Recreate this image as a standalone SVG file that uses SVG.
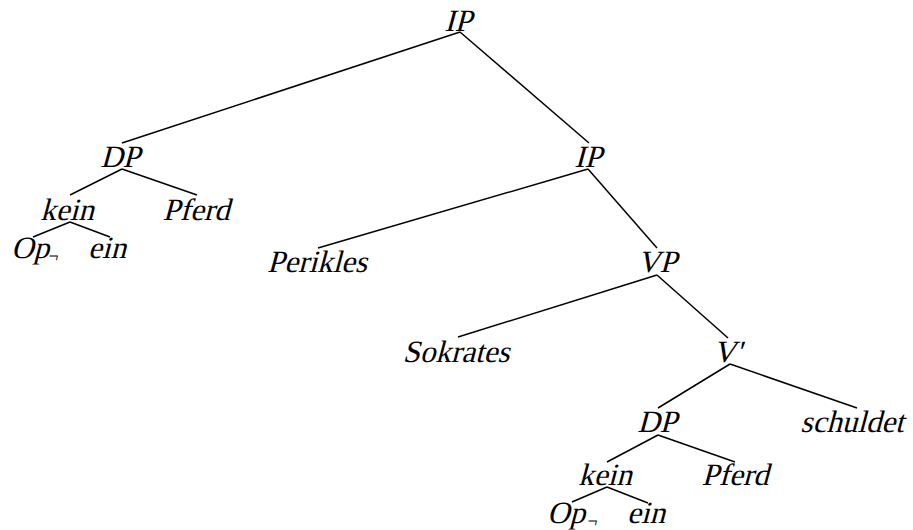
<svg xmlns="http://www.w3.org/2000/svg" width="913" height="530" viewBox="0 0 913 530">
<style>
  .lbl { font-family: 'Liberation Serif', 'Times New Roman', serif; font-style: normal; font-size: 31px; fill: #000; text-anchor: middle; }
  .st { text-anchor: start; }
  .neg { font-size: 18px; }
  .edges line { stroke: #000; stroke-width: 1.5; }
</style>
<rect width="913" height="530" fill="#fff"/>
<g class="edges" id="connectors">
  <line x1="460" y1="32" x2="122" y2="143"/>
  <line x1="460" y1="32" x2="589" y2="143"/>
  <line x1="122" y1="169" x2="70" y2="195"/>
  <line x1="122" y1="169" x2="197" y2="195"/>
  <line x1="70" y1="222" x2="33" y2="237"/>
  <line x1="70" y1="222" x2="110" y2="237"/>
  <line x1="588" y1="169" x2="318" y2="248"/>
  <line x1="588" y1="169" x2="657" y2="248"/>
  <line x1="657" y1="275" x2="458" y2="337"/>
  <line x1="657" y1="275" x2="728" y2="338"/>
  <line x1="730" y1="364" x2="658" y2="408"/>
  <line x1="730" y1="364" x2="857" y2="408"/>
  <line x1="658" y1="435" x2="607" y2="462"/>
  <line x1="658" y1="435" x2="735" y2="462"/>
  <line x1="607" y1="487" x2="572" y2="502"/>
  <line x1="607" y1="487" x2="648" y2="503"/>
</g>
<g id="n-ip-top" transform="translate(458,31) skewX(-15)"><text class="lbl">IP</text></g>
<g id="n-dp-left" transform="translate(120,167) skewX(-15)"><text class="lbl">DP</text></g>
<g id="n-ip-mid" transform="translate(588,167) skewX(-15)"><text class="lbl">IP</text></g>
<g id="n-kein-left" transform="translate(67,220) skewX(-15)"><text class="lbl">kein</text></g>
<g id="n-pferd-left" transform="translate(196,220) skewX(-15)"><text class="lbl">Pferd</text></g>
<g id="n-op-left" transform="translate(11,258) skewX(-15)"><text class="lbl st">Op<tspan class="neg" x="37" dy="4">¬</tspan></text></g>
<g id="n-ein-left" transform="translate(107,258) skewX(-15)"><text class="lbl">ein</text></g>
<g id="n-perikles" transform="translate(317,272) skewX(-15)"><text class="lbl">Perikles</text></g>
<g id="n-vp" transform="translate(657,272) skewX(-15)"><text class="lbl">VP</text></g>
<g id="n-sokrates" transform="translate(456,362) skewX(-15)"><text class="lbl">Sokrates</text></g>
<g id="n-vbar" transform="translate(727,362) skewX(-15)"><text class="lbl">V'</text></g>
<g id="n-dp-low" transform="translate(657,432) skewX(-15)"><text class="lbl">DP</text></g>
<g id="n-schuldet" transform="translate(852,432) skewX(-15)"><text class="lbl">schuldet</text></g>
<g id="n-kein-low" transform="translate(605,485) skewX(-15)"><text class="lbl">kein</text></g>
<g id="n-pferd-low" transform="translate(735,485) skewX(-15)"><text class="lbl">Pferd</text></g>
<g id="n-op-low" transform="translate(547,523) skewX(-15)"><text class="lbl st">Op<tspan class="neg" x="40" dy="4">¬</tspan></text></g>
<g id="n-ein-low" transform="translate(646,523) skewX(-15)"><text class="lbl">ein</text></g>
</svg>
